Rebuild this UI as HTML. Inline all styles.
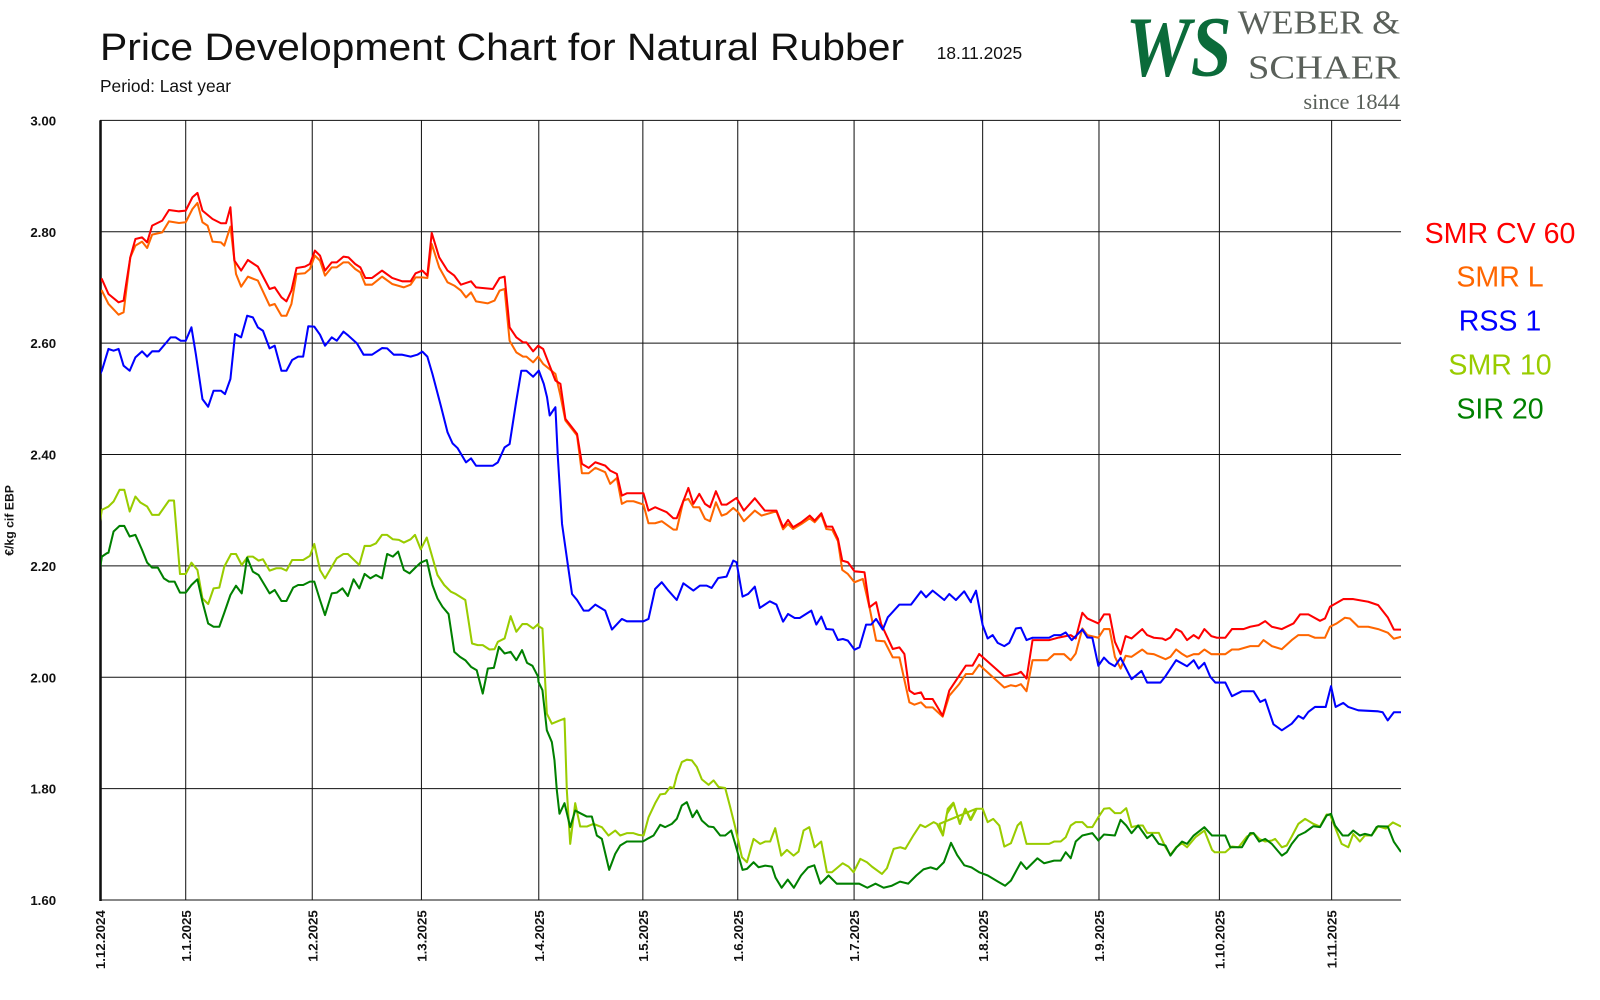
<!DOCTYPE html>
<html><head><meta charset="utf-8"><style>
html,body{margin:0;padding:0;background:#fff;}
svg{display:block;}
</style></head><body>
<svg id="s" width="1600" height="1000" viewBox="0 0 1568 980" xmlns="http://www.w3.org/2000/svg" font-family="'Liberation Sans', 'DejaVu Sans', sans-serif">
<defs><clipPath id="cp"><rect x="99" y="110" width="1274" height="772"/></clipPath></defs>
<rect width="1568" height="980" fill="#fff"/>
<text x="98" y="59" font-size="37" fill="#111" textLength="788" lengthAdjust="spacingAndGlyphs">Price Development Chart for Natural Rubber</text>
<text x="918" y="58" font-size="17" fill="#111">18.11.2025</text>
<text x="98" y="90" font-size="17" fill="#111">Period: Last year</text>
<!-- logo -->
<text x="1103" y="74" font-family="'Liberation Serif', serif" font-style="italic" font-weight="bold" font-size="84" fill="#0b6b3a" textLength="104" lengthAdjust="spacingAndGlyphs">WS</text>
<text x="1213" y="33" font-family="'Liberation Serif', serif" font-size="33" fill="#5a605a" textLength="159" lengthAdjust="spacingAndGlyphs">WEBER &amp;</text>
<text x="1223" y="77" font-family="'Liberation Serif', serif" font-size="33" fill="#5a605a" textLength="149" lengthAdjust="spacingAndGlyphs">SCHAER</text>
<text x="1372" y="107" text-anchor="end" font-family="'Liberation Serif', serif" font-size="22" fill="#5a605a">since 1844</text>
<!-- legend -->
<g font-size="28" text-anchor="middle">
<text x="1470" y="238" fill="#ff0000">SMR CV 60</text>
<text x="1470" y="281" fill="#ff6600">SMR L</text>
<text x="1470" y="324" fill="#0000ff">RSS 1</text>
<text x="1470" y="367" fill="#99cc00">SMR 10</text>
<text x="1470" y="410" fill="#008000">SIR 20</text>
</g>
<text transform="translate(13,510) rotate(-90)" text-anchor="middle" font-size="12" font-weight="bold" fill="#111">€/kg cif EBP</text>
<g id="grid" stroke="#111" stroke-width="1"></g>
<g id="lab" font-size="13" font-weight="bold" fill="#111"></g>
<g id="ser" clip-path="url(#cp)" fill="none" stroke-width="2" stroke-linejoin="round"></g>
</svg>
<script>
var NS="http://www.w3.org/2000/svg";
function el(p,t,a,txt){var e=document.createElementNS(NS,t);for(var k in a)e.setAttribute(k,a[k]);if(txt)e.textContent=txt;p.appendChild(e);return e;}
var grid=document.getElementById('grid'),lab=document.getElementById('lab'),ser=document.getElementById('ser');
var vals=["3.00","2.80","2.60","2.40","2.20","2.00","1.80","1.60"];
for(var i=0;i<8;i++){var y=118+i*109.14;
 el(grid,'line',{x1:98,x2:1373,y1:y,y2:y});
 el(lab,'text',{x:55,y:y+5,'text-anchor':'end'},vals[i]);}
var xs=[[98,"1.12.2024"],[182,"1.1.2025"],[306,"1.2.2025"],[413,"1.3.2025"],[528,"1.4.2025"],[630,"1.5.2025"],[723,"1.6.2025"],[837,"1.7.2025"],[963,"1.8.2025"],[1077,"1.9.2025"],[1195,"1.10.2025"],[1305,"1.11.2025"]];
xs.forEach(function(d){var x=d[0];el(grid,'line',{x1:x,x2:x,y1:118,y2:882});
 el(lab,'text',{transform:'translate('+(d[0]+5)+',892) rotate(-90)','text-anchor':'end'},d[1]);});
el(grid,'line',{x1:98.5,x2:98.5,y1:118,y2:883,'stroke-width':2.5});
var T={
z1:function(p){return[182+(p[0]-295)/3.04,227+(p[1]-213)/3.06]},
z2:function(p){return[528+(p[0]-55)/3.07,336+(p[1]-37)/3.06]},
z3:function(p){return[963+(p[0]-130)/3.07,664+(p[1]-352)/3.055]},
z5:function(p){return[182+(p[0]-295)/3.04,554+(p[1]-316)/3.055]},
z6:function(p){return[630+(p[0]-313)/3.06,554+(p[1]-16)/3.055]},
f:function(p){return p}};
function P(s){return s.trim().split(/\s+/).map(function(t){return t.split(',').map(Number)});}
function series(color,segs){var pts=[];segs.forEach(function(sg){P(sg[1]).forEach(function(p){pts.push(T[sg[0]](p))})});
 el(ser,'polyline',{stroke:color,points:pts.map(function(p){return p[0].toFixed(1)+','+p[1].toFixed(1)}).join(' ')});}
series('#ff6600',[
['z1','30,405 45,390 65,430 95,462 110,455 130,290 145,255 165,243 180,262 195,222 225,215 245,182 275,187 295,185 315,145 330,127 345,185 360,195 375,243 400,245 410,255 428,198 445,340 460,378 480,348 510,360 545,435 560,430 580,465 595,465 610,430 625,340 650,338 665,325 680,285 695,300 710,345 730,320 745,320 765,305 780,305 800,325 815,335 830,372 850,372 880,348 910,370 945,380 965,372 980,350 1000,350 1015,352 1028,250 1050,320 1075,365 1095,375 1115,390 1130,410 1145,395 1160,422 1195,428 1215,420 1230,390 1245,385 1260,540 1280,575 1300,588 1310,588 1330,605 1345,588 1360,610'],
['z2','105,130 120,195 135,270 170,315 185,428 205,428 225,412 255,425 270,460 290,442 305,520 320,512 340,512 370,522 385,578 405,578 425,572 460,597 470,597 490,510 505,505 520,530 538,530 555,565 570,572 588,515 605,555 620,550 640,532 655,545 672,572 705,540 725,555 770,542 790,596 805,580 820,595 845,580 870,563 885,575 905,552 920,595 938,598 955,632 968,718 985,730 1005,755 1030,745 1050,830 1070,930 1095,932 1120,980 1140,980 1170,1115 1185,1122 1205,1115 1220,1130 1240,1130 1270,1158 1290,1095 1320,1060 1340,1030 1360,1030 1380,1002'],
['z3','195,382 215,375 230,378 245,372 262,393 280,300 325,300 345,282 375,282 395,300 410,280 430,205 445,225 478,233 495,207 512,207 528,290 545,325 560,287 578,290 610,268 625,280 645,282 680,297 695,290 712,268 728,280 745,290 765,282 780,282 797,268 818,282 860,282 880,268 900,268 935,258 960,258 975,240 1000,258 1030,267 1060,240 1080,225 1110,225 1130,233 1160,233 1175,200 1195,190 1220,173 1235,175 1260,200 1290,200 1320,207'],
['f','1360,620 1366,626 1373,624']]);
series('#ff0000',[
['z1','30,380 45,355 65,400 95,425 110,420 130,290 145,235 165,230 180,245 195,195 225,180 245,148 275,152 295,150 315,110 330,97 345,150 375,175 400,188 415,188 428,140 440,300 460,330 480,298 510,318 545,385 560,380 580,410 595,422 610,390 625,322 650,318 665,310 680,270 695,285 710,330 730,305 745,305 765,288 780,290 800,310 815,320 830,352 850,352 880,330 910,352 940,362 965,362 980,338 1000,330 1015,345 1028,217 1050,290 1075,330 1095,345 1115,372 1145,362 1160,380 1210,385 1230,352 1245,348 1260,500 1280,530 1300,545 1310,545 1330,572 1345,555 1360,565'],
['z2','105,150 120,160 135,265 170,310 185,400 205,412 225,395 255,405 270,420 290,430 305,495 320,488 370,488 385,540 405,530 440,545 460,563 470,563 505,472 520,520 538,490 555,520 570,530 588,482 605,522 620,522 650,502 672,540 705,503 735,540 770,540 790,590 805,568 820,590 845,575 870,555 885,570 905,548 920,588 938,588 955,625 968,690 985,695 1005,722 1035,725 1050,830 1070,815 1085,880 1120,955 1140,950 1155,970 1170,1080 1185,1090 1205,1085 1215,1105 1240,1105 1270,1155 1290,1080 1310,1050 1340,1005 1360,1005 1380,970'],
['z3','195,348 235,340 245,335 262,355 280,240 330,240 360,232 395,225 410,235 430,158 445,175 478,190 495,163 512,163 528,245 545,282 560,228 578,235 610,207 625,225 645,233 670,235 680,240 695,232 712,207 728,215 745,240 765,225 780,235 797,207 818,228 835,233 860,233 880,207 915,207 935,200 960,195 980,183 1000,200 1030,207 1065,190 1085,163 1110,163 1145,182 1160,175 1175,140 1215,117 1245,117 1290,125 1320,135'],
['f','1360,605 1366,617 1373,617']]);
series('#0000ff',[
['z1','30,660 45,630 65,565 80,570 95,565 110,615 128,630 145,590 165,572 180,588 195,572 215,572 235,548 250,530 265,530 280,540 295,540 312,500 325,580 345,715 362,738 378,690 400,690 412,700 428,655 442,520 460,530 478,465 495,470 510,500 525,510 545,563 560,555 580,630 595,630 612,598 630,588 645,588 660,497 678,498 695,522 710,555 730,530 745,540 765,513 780,525 805,548 825,582 850,582 880,562 895,563 915,582 940,582 965,588 985,582 1000,573 1015,588 1030,640 1055,735 1075,815 1090,848 1105,862 1130,905 1145,893 1160,915 1210,915 1225,905 1245,860 1260,850 1280,720 1295,630 1310,630 1330,648 1345,632'],
['z2','55,120 70,160 80,200 88,255 98,240 105,230 112,375 125,580 145,720 155,790 170,808 190,840 205,840 225,822 255,840 275,897 305,865 320,872 370,872 385,865 405,775 425,755 445,780 470,808 490,758 520,780 540,765 560,765 575,772 595,742 620,738 640,690 650,695 668,798 685,790 705,768 720,832 750,812 770,822 790,873 805,850 825,862 840,862 875,840 890,882 905,858 920,895 940,897 955,928 970,925 985,930 1005,957 1020,950 1040,882 1055,882 1070,865 1090,897 1105,860 1140,822 1175,822 1205,782 1220,800 1240,780 1275,808 1290,790 1310,808 1335,782 1355,815'],
['z3','95,122 110,92 130,195 145,235 160,225 175,248 195,258 210,248 230,205 245,203 262,240 280,233 330,233 345,225 365,225 380,217 398,240 430,208 445,232 460,233 478,317 495,292 510,308 528,318 545,293 578,357 608,332 625,367 665,367 680,348 712,300 745,318 765,300 780,325 797,308 815,350 830,367 860,367 880,408 910,393 945,393 965,425 980,418 1005,492 1030,510 1060,490 1080,467 1095,475 1110,455 1130,440 1162,440 1178,378 1192,440 1215,428 1230,440 1260,450 1320,453'],
['f','1355,698 1360,706 1366,698 1373,698']]);
series('#99cc00',[
['z5','30,245 45,150 65,140 80,125 98,90 112,90 128,155 145,110 160,128 180,140 195,165 215,165 245,122 260,122 278,342 295,342 312,308 330,330 345,415 362,432 378,385 395,383 410,320 430,282 445,282 462,315 480,290 495,290 512,302 525,298 545,332 565,325 580,325 595,332 612,300 645,300 665,288 678,252 695,330 710,355 745,295 765,282 778,282 812,315 828,258 845,258 862,250 880,225 895,225 912,238 930,240 945,248 965,238 978,225 995,268 1013,233 1045,345 1065,375 1085,395 1100,402 1128,420 1148,550 1165,555 1180,555 1200,568 1215,567 1225,545 1245,535 1263,468 1280,515 1298,492 1312,492 1330,505 1345,492'],
['z6','0,198 12,205 20,360 25,460 40,490 60,482 78,475 85,690 95,850 110,728 125,798 145,798 165,790 190,800 210,825 230,810 245,825 265,818 285,818 300,823 315,825 330,770 350,728 365,702 380,700 395,680 405,683 415,645 430,605 445,598 460,600 475,620 490,657 510,673 525,660 540,680 560,683 575,740 590,800 610,890 625,905 645,835 665,850 680,843 695,843 710,803 728,885 745,868 765,885 780,873 795,810 812,800 828,860 848,843 865,935 880,935 912,908 930,918 945,935 965,895 985,905 1000,918 1030,940 1045,923 1065,865 1085,860 1100,865 1125,823 1145,793 1160,800 1185,785 1195,790 1213,825 1225,760 1245,728 1263,790 1280,745 1295,778 1312,745'],
['z3','0,790 10,825 25,745 42,727 62,790 78,745 95,778 112,745 130,745 145,785 162,775 180,795 195,858 215,848 235,795 245,785 262,850 330,850 345,843 365,843 380,830 395,795 410,785 430,785 445,800 460,800 478,770 495,745 512,743 528,758 545,758 562,743 578,800 600,795 612,795 625,817 660,817 680,860 695,883 712,860 730,848 745,860 770,830 797,810 820,868 828,875 860,875 880,858 900,860 925,828 945,818 962,835 980,843 1000,840 1010,835 1030,860 1045,855 1060,828 1080,790 1100,775 1125,790 1145,798 1165,762 1175,762 1190,800 1210,850 1230,860 1245,820 1265,843 1280,825 1300,825 1320,797'],
['f','1358,812 1365,806 1373,810']]);
series('#008000',[
['z5','30,390 45,290 60,280 65,278 80,215 98,198 112,198 128,230 145,225 165,270 180,308 195,323 212,323 230,355 245,365 262,365 278,398 295,398 312,375 330,358 345,425 362,490 378,500 395,500 410,458 428,405 445,377 462,400 478,293 495,335 512,345 530,375 545,400 560,390 580,423 595,423 615,383 630,375 645,375 665,365 678,365 695,420 710,465 730,400 745,398 762,385 778,408 795,358 812,385 828,342 845,355 862,345 880,355 895,282 912,290 928,275 945,330 962,340 980,322 995,308 1013,300 1030,375 1045,415 1060,440 1078,462 1095,575 1112,590 1128,600 1145,620 1162,630 1180,700 1195,625 1213,623 1228,560 1245,580 1263,575 1280,600 1297,570 1312,608 1328,617 1345,650'],
['z6','0,365 12,390 25,510 40,545 48,600 55,690 63,760 78,728 95,800 110,750 125,758 145,768 160,768 175,825 190,835 212,928 230,880 245,855 265,843 295,843 313,843 330,833 345,825 365,793 380,800 400,790 415,775 430,735 445,725 462,770 475,750 490,780 510,798 525,800 545,825 560,825 578,810 590,850 612,928 625,925 645,905 660,920 680,915 700,918'],
['f','760,860 766,870 772,862 778,870 785,858 792,850 798,848 804,866 812,858 820,866 835,866 842,866 850,870 858,866 866,870 874,868 882,864 890,866 898,858 905,852 912,850 918,852 925,845 932,826 938,838 945,848 952,850 960,855 968,858 978,864 985,868'],
['z3','215,960 245,905 262,925 295,893 315,908 345,900 365,900 380,875 395,893 410,843 430,825 460,818 478,840 495,822 528,825 545,778 562,795 578,818 598,795 625,833 640,822 660,850 680,855 695,885 712,862 730,843 745,850 765,825 797,800 820,825 860,825 875,860 910,860 935,818 945,818 962,843 980,835 1000,850 1030,885 1045,875 1060,850 1080,825 1100,815 1125,797 1145,800 1165,765 1178,760 1190,795 1213,825 1230,825 1245,810 1265,825 1280,820 1300,825 1315,800 1320,797'],
['f','1360,810 1366,825 1373,835']]);
</script>
</body></html>
